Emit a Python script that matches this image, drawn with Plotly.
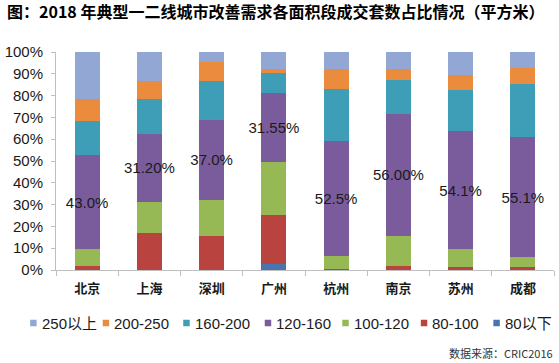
import plotly.graph_objects as go

# ---------------- data ----------------
cities = ["北京", "上海", "深圳", "广州", "杭州", "南京", "苏州", "成都"]

s_lt80 = [0, 0, 0, 2.8, 0, 0, 0, 0]
s_80_100 = [1.8, 17.2, 15.5, 22.3, 0.3, 2.0, 1.3, 1.4]
s_100_120 = [7.8, 14.0, 16.5, 24.5, 6.3, 13.6, 8.2, 4.4]
s_120_160 = [43.0, 31.2, 37.0, 31.55, 52.5, 56.0, 54.1, 55.1]
s_160_200 = [15.7, 16.1, 17.8, 9.0, 23.9, 15.4, 19.1, 24.6]
s_200_250 = [10.2, 8.4, 8.8, 2.1, 9.2, 5.2, 6.7, 7.3]
s_250_plus = [21.5, 13.1, 4.4, 7.75, 7.8, 7.8, 10.6, 7.2]

labels_120_160 = ["43.0%", "31.20%", "37.0%", "31.55%", "52.5%", "56.00%", "54.1%", "55.1%"]

series_names = ["80以下", "80-100", "100-120", "120-160", "160-200", "200-250", "250以上"]
series_values = [s_lt80, s_80_100, s_100_120, s_120_160, s_160_200, s_200_250, s_250_plus]

y_ticks = [0, 10, 20, 30, 40, 50, 60, 70, 80, 90, 100]
y_tick_labels = ["0%", "10%", "20%", "30%", "40%", "50%", "60%", "70%", "80%", "90%", "100%"]

title_text = "图：2018 年典型一二线城市改善需求各面积段成交套数占比情况（平方米）"
source_text = "数据来源：CRIC2016"

# ---------------- styles ----------------
colors = {
    "80以下": "#4A74AE",
    "80-100": "#B9443F",
    "100-120": "#96B955",
    "120-160": "#7A5C9C",
    "160-200": "#3E9EB7",
    "200-250": "#EA8B3E",
    "250以上": "#92A7D3",
}

W, H = 559, 363
ML, MR, MT, MB = 53, 5, 52, 93
PW, PH = W - ML - MR, H - MT - MB

LAT = "Liberation Sans, Arial, Noto Sans CJK SC, sans-serif"
CJK = "Noto Sans CJK SC, sans-serif"
TXT = "#1a1a1a"
AX = "#bfbfbf"

fig = go.Figure()
for name, vals in zip(series_names, series_values):
    kw = {}
    if name == "120-160":
        kw = dict(
            text=labels_120_160,
            textposition="inside",
            insidetextanchor="middle",
            constraintext="none",
            textangle=0,
            textfont=dict(family=LAT, size=15, color=TXT),
        )
    fig.add_trace(go.Bar(
        x=cities, y=vals, name=name,
        marker=dict(color=colors[name], line=dict(width=0)),
        hoverinfo="skip", showlegend=False, **kw,
    ))

def px_x(px):
    return (px - ML) / PW

def px_y(py):
    return (H - MB - py) / PH

annotations = []
shapes = []

# custom legend (reference order: largest first)
legend_order = list(reversed(series_names))
legend_sq_left = [27, 100, 181, 263, 341, 420, 493]
sq = 6.5
ly = 323
for name, sx in zip(legend_order, legend_sq_left):
    shapes.append(dict(
        type="rect", xref="paper", yref="paper",
        x0=px_x(sx), x1=px_x(sx + sq),
        y0=px_y(ly + sq / 2), y1=px_y(ly - sq / 2),
        fillcolor=colors[name], line=dict(width=0),
    ))
    annotations.append(dict(
        text=name, xref="paper", yref="paper",
        x=px_x(sx + 9.5), y=px_y(ly), xanchor="left", yanchor="middle",
        showarrow=False, font=dict(family=LAT, size=15, color=TXT),
    ))

annotations.append(dict(
    text=source_text, xref="paper", yref="paper",
    x=px_x(555), y=px_y(353), xanchor="right", yanchor="middle",
    showarrow=False, font=dict(family=CJK, size=11, color="#333333"),
))

annotations.append(dict(
    text="<b>" + title_text + "</b>", xref="paper", yref="paper",
    x=px_x(2), y=px_y(11), xanchor="left", yanchor="middle",
    showarrow=False, font=dict(family=CJK, size=16, color="#000000"),
))

fig.update_layout(
    width=W, height=H,
    margin=dict(l=ML, r=MR, t=MT, b=MB, pad=0),
    barmode="stack", bargap=0.6,
    paper_bgcolor="white", plot_bgcolor="white",
    showlegend=False,
    annotations=annotations, shapes=shapes,
    xaxis=dict(
        type="category", tickson="boundaries", ticks="outside", ticklen=5,
        tickcolor=AX, showline=True, linecolor=AX, linewidth=1,
        showgrid=False, zeroline=False, ticklabelstandoff=6,
        tickfont=dict(family=CJK, size=13, color=TXT, weight="bold"),
    ),
    yaxis=dict(
        range=[0, 100], tickmode="array", tickvals=y_ticks, ticktext=y_tick_labels,
        ticks="outside", ticklen=4, tickcolor=AX,
        showline=True, linecolor=AX, linewidth=1,
        showgrid=False, zeroline=False, ticklabelstandoff=5,
        tickfont=dict(family=LAT, size=15, color=TXT),
    ),
)

fig.write_html(
    "out.html",
    config={"displayModeBar": False},
    post_script="document.body.style.margin='0px';document.body.style.overflow='hidden';",
)
